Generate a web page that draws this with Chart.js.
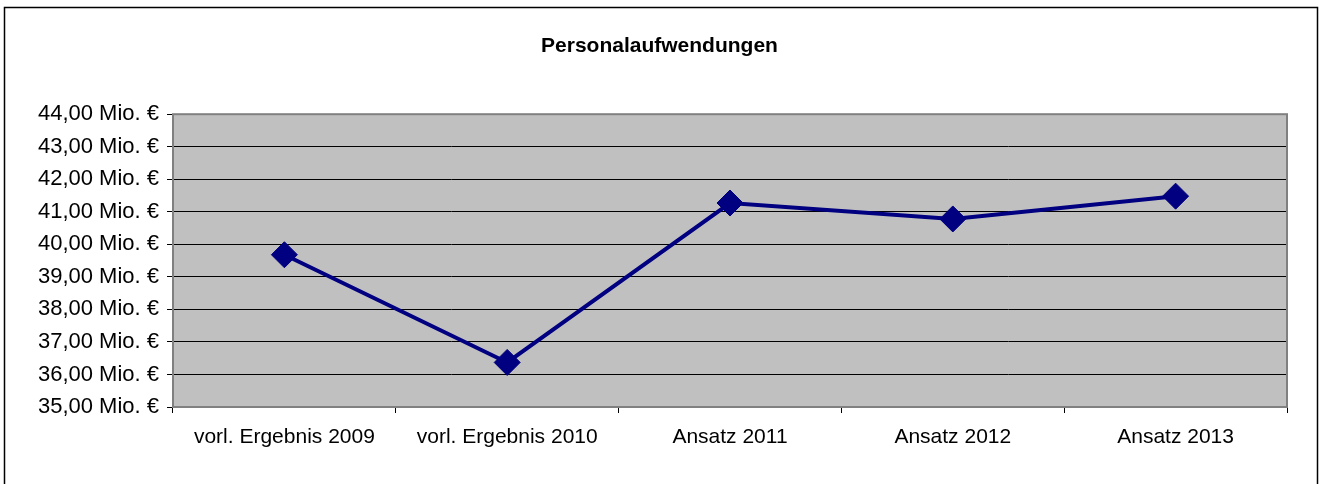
<!DOCTYPE html>
<html>
<head>
<meta charset="utf-8">
<script src="https://cdn.jsdelivr.net/npm/chart.js@4/dist/chart.umd.min.js"></script>
<style>
  html, body { margin: 0; padding: 0; background: #fff; }
  #wrap { width: 1319px; height: 484px; }
</style>
</head>
<body>
<div id="wrap"><canvas id="costChart" width="1319" height="484"></canvas></div>
<script>
const categories = ["vorl. Ergebnis 2009", "vorl. Ergebnis 2010", "Ansatz 2011", "Ansatz 2012", "Ansatz 2013"];
const personalCosts = [39.68, 36.37, 41.27, 40.78, 41.48];
const yMin = 35, yMax = 44, yStep = 1;

function formatMio(v) {
    return v.toFixed(2).replace('.', ',') + ' Mio. €';
}

// grey plot area plus the frame around the whole picture
const backdrop = {
    id: 'backdrop',
    beforeDraw(chart) {
        const ctx = chart.ctx, a = chart.chartArea;
        ctx.save();
        ctx.strokeStyle = '#000';
        ctx.lineWidth = 1.5;
        ctx.strokeRect(4.5, 7.5, 1313, 490);
        ctx.fillStyle = '#c0c0c0';
        ctx.fillRect(a.left, a.top, a.right - a.left, a.bottom - a.top);
        ctx.restore();
    },
    beforeDatasetsDraw(chart) {
        const ctx = chart.ctx, a = chart.chartArea;
        ctx.save();
        ctx.strokeStyle = '#808080';
        ctx.lineWidth = 2;
        ctx.strokeRect(a.left, a.top, a.right - a.left, a.bottom - a.top);
        ctx.restore();
    }
};

Chart.defaults.font.family = "'Liberation Sans', Arial, sans-serif";
Chart.defaults.color = '#000';

new Chart(document.getElementById('costChart'), {
    type: 'line',
    data: {
        labels: categories,
        datasets: [{
            label: 'Personalaufwendungen',
            data: personalCosts,
            borderColor: '#000080',
            backgroundColor: '#000080',
            borderWidth: 4,
            pointStyle: 'rectRot',
            pointRadius: 13,
            pointHoverRadius: 13,
            pointBorderWidth: 1,
            pointBackgroundColor: '#000080',
            pointBorderColor: '#000080',
            tension: 0
        }]
    },
    options: {
        responsive: false,
        animation: false,
        layout: { padding: 0 },
        plugins: {
            legend: { display: false },
            tooltip: { enabled: false },
            title: {
                display: true,
                text: 'Personalaufwendungen',
                font: { size: 21, weight: 'bold' },
                color: '#000',
                padding: { top: 34, bottom: 55 }
            }
        },
        scales: {
            x: {
                offset: true,
                grid: {
                    offset: true,
                    drawOnChartArea: false,
                    drawTicks: true,
                    tickLength: 6,
                    tickColor: '#000'
                },
                border: { display: false },
                ticks: { font: { size: 21 }, padding: 12, maxRotation: 0, autoSkip: false },
                afterFit(scale) { scale.height = 77; }
            },
            y: {
                min: yMin,
                max: yMax,
                grid: {
                    color: '#000',
                    lineWidth: 1,
                    tickLength: 6,
                    tickColor: '#000'
                },
                border: { display: false },
                ticks: {
                    stepSize: yStep,
                    font: { size: 22 },
                    padding: 8,
                    callback: v => formatMio(v)
                },
                afterFit(scale) { scale.width = 173; }
            },
            // empty right-hand axis: keeps the plot off the right edge so the title stays centred
            yRight: {
                position: 'right',
                display: true,
                grid: { display: false },
                border: { display: false },
                ticks: { display: false },
                afterFit(scale) { scale.width = 32; }
            }
        }
    },
    plugins: [backdrop]
});
</script>
</body>
</html>
